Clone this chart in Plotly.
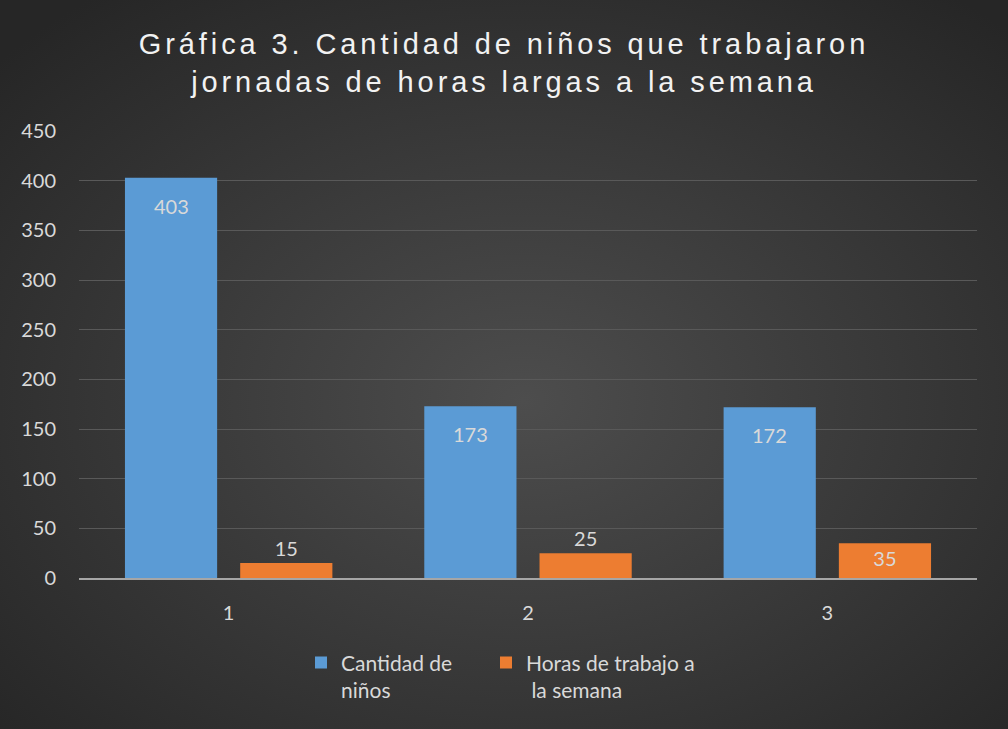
import base64
import plotly.graph_objects as go

categories = ["1", "2", "3"]
ninos = [403, 173, 172]
horas = [15, 25, 35]
series_names = ["Cantidad de<br>niños", "Horas de trabajo a<br> la semana"]
title = "Gráfica 3. Cantidad de niños que trabajaron<br>jornadas de horas largas a la semana"

W, H = 1008, 729
ML, MR, MT, MB = 79, 31, 131, 151
pw, ph = W - ML - MR, H - MT - MB
BARGAP = 0.23

# dark radial background like the office "dark" chart style
svg = f"""<svg xmlns='http://www.w3.org/2000/svg' width='{W}' height='{H}'>
<defs><radialGradient id='g' cx='52%' cy='55%' r='70%'>
<stop offset='0%' stop-color='#4d4d4d'/><stop offset='100%' stop-color='#262626'/>
</radialGradient></defs><rect width='{W}' height='{H}' fill='url(#g)'/></svg>"""
bg = "data:image/svg+xml;base64," + base64.b64encode(svg.encode()).decode()

label_font = dict(family="Lato, Noto Sans, sans-serif", size=20, color="#d9d9d9")
legend_font = dict(family="Lato, Noto Sans, sans-serif", size=21, color="#d9d9d9")

fig = go.Figure()
fig.add_trace(go.Bar(
    x=categories, y=ninos, name=series_names[0],
    marker=dict(color="#5b9bd5", line=dict(width=0)),
    legend="legend",
))
fig.add_trace(go.Bar(
    x=categories, y=horas, name=series_names[1],
    marker=dict(color="#ed7d31", line=dict(width=0)),
    text=horas, textposition=["outside", "outside", "inside"], insidetextanchor="end",
    textfont=label_font, constraintext="none", cliponaxis=False,
    legend="legend2",
))

# labels for the tall blue bars sit a bit lower inside the bar top
offset = (1 - BARGAP) / 4
for i, v in enumerate(ninos):
    fig.add_annotation(x=i - offset, y=v, xref="x", yref="y", text=str(v),
                       showarrow=False, yshift=-28, yanchor="middle", font=label_font)

leg = dict(orientation="h", xanchor="left", y=-0.144, yanchor="top",
           font=legend_font, valign="top", bgcolor="rgba(0,0,0,0)")
fig.update_layout(
    width=W, height=H,
    margin=dict(l=ML, r=MR, t=MT, b=MB),
    paper_bgcolor="#3a3a3a", plot_bgcolor="rgba(0,0,0,0)",
    barmode="group", bargap=BARGAP, bargroupgap=0.2,
    title=dict(text=title, x=0.5, xanchor="center", y=0.926, yanchor="middle",
               font=dict(family="Liberation Sans, Arial, sans-serif", size=29, color="#f2f2f2")),
    font=label_font,
    showlegend=True,
    legend=dict(leg, x=(301 - ML) / pw),
    legend2=dict(leg, x=(486 - ML) / pw),
    images=[dict(source=bg, xref="paper", yref="paper",
                 x=-ML / pw, y=1 + MT / ph, sizex=W / pw, sizey=H / ph,
                 xanchor="left", yanchor="top", sizing="stretch", layer="below")],
)
fig.update_yaxes(range=[0, 450], dtick=50, showgrid=True, gridcolor="#595959", gridwidth=1,
                 zeroline=False, showline=False, ticks="", tickfont=label_font, ticklabelstandoff=22)
fig.update_xaxes(showline=True, linecolor="#a6a6a6", linewidth=2, ticks="",
                 tickfont=label_font, ticklabelstandoff=16)

post = ("document.body.style.margin='0';"
        "document.querySelectorAll('.gtitle').forEach(function(t){t.style.letterSpacing='3.9px';});")
fig.write_html("out.html", post_script=post, config={"displayModeBar": False})
